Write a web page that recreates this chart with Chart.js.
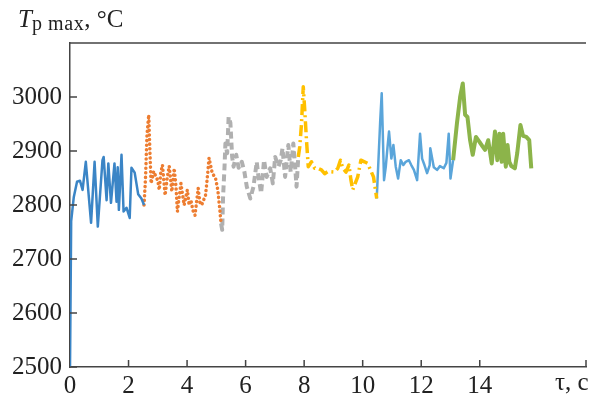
<!DOCTYPE html>
<html>
<head>
<meta charset="utf-8">
<script src="https://cdn.jsdelivr.net/npm/chart.js@4.4.1/dist/chart.umd.min.js"></script>
<style>
    body { margin: 0; background: #fff; }
    #wrap { position: relative; width: 590px; height: 407px; }
    #ytitle {
        position: absolute; left: 18px; top: 5px;
        font-family: "Liberation Serif", "Times New Roman", serif;
        font-size: 25px; color: #222; white-space: nowrap;
    }
    #ytitle .sub { font-size: 20px; position: relative; top: 3px; letter-spacing: 0.6px; }
</style>
</head>
<body>
<div id="wrap">
    <canvas id="chart" width="590" height="407"></canvas>
    <div id="ytitle"><i>T</i><span class="sub">p max</span>, °C</div>
</div>
<script>
    // time, s and temperature, °C for each part of the record
    var t1 = [0, 0.04, 0.13, 0.24, 0.34, 0.43, 0.54, 0.72, 0.84, 0.95, 1.11, 1.15, 1.25, 1.31, 1.40, 1.52, 1.59, 1.63, 1.67, 1.76, 1.83, 1.93, 2.04, 2.10, 2.21, 2.33, 2.44, 2.53];
    var T1 = [2500, 2770, 2815, 2843, 2845, 2828, 2880, 2767, 2880, 2760, 2883, 2889, 2809, 2877, 2804, 2877, 2806, 2870, 2791, 2893, 2788, 2795, 2776, 2869, 2860, 2820, 2812, 2800];

    var t2 = [2.53, 2.58, 2.63, 2.69, 2.73, 2.77, 2.86, 2.94, 3.00, 3.05, 3.10, 3.16, 3.25, 3.32, 3.39, 3.48, 3.56, 3.62, 3.67, 3.73, 3.79, 3.90, 4.01, 4.07, 4.13, 4.20, 4.27, 4.38, 4.44, 4.50, 4.63, 4.69, 4.75, 4.86, 4.97, 5.05, 5.12, 5.16];
    var T2 = [2800, 2850, 2930, 2967, 2900, 2840, 2862, 2852, 2845, 2828, 2860, 2874, 2818, 2850, 2872, 2825, 2868, 2835, 2788, 2815, 2840, 2800, 2828, 2800, 2809, 2790, 2781, 2831, 2805, 2800, 2818, 2850, 2887, 2859, 2850, 2828, 2791, 2766];

    var t3 = [5.16, 5.20, 5.23, 5.28, 5.31, 5.37, 5.42, 5.48, 5.54, 5.59, 5.68, 5.76, 5.87, 5.96, 6.04, 6.16, 6.27, 6.38, 6.44, 6.53, 6.63, 6.72, 6.84, 6.93, 7.01, 7.12, 7.20, 7.26, 7.35, 7.46, 7.54, 7.63, 7.68, 7.74, 7.80];
    var T3 = [2766, 2754, 2815, 2871, 2914, 2896, 2963, 2952, 2889, 2871, 2893, 2869, 2880, 2861, 2834, 2812, 2834, 2880, 2852, 2822, 2883, 2852, 2868, 2840, 2889, 2871, 2883, 2905, 2852, 2911, 2861, 2914, 2880, 2834, 2889];

    var t4 = [7.80, 7.85, 7.91, 7.97, 8.02, 8.08, 8.14, 8.25, 8.36, 8.47, 8.59, 8.70, 8.81, 9.04, 9.15, 9.24, 9.32, 9.43, 9.53, 9.60, 9.66, 9.83, 9.94, 10.06, 10.17, 10.37, 10.48];
    var T4 = [2889, 2908, 2951, 3019, 2976, 2920, 2871, 2880, 2868, 2868, 2865, 2858, 2862, 2861, 2868, 2883, 2868, 2861, 2874, 2846, 2828, 2852, 2883, 2880, 2877, 2852, 2812];

    var t5 = [10.48, 10.60, 10.65, 10.73, 10.79, 10.85, 10.90, 10.98, 11.05, 11.13, 11.21, 11.30, 11.39, 11.47, 11.58, 11.66, 11.75, 11.86, 11.96, 12.03, 12.11, 12.20, 12.29, 12.31, 12.43, 12.54, 12.64, 12.77, 12.86, 12.94, 13.00, 13.09];
    var T5 = [2812, 2957, 3007, 2846, 2871, 2908, 2936, 2886, 2911, 2871, 2849, 2883, 2874, 2880, 2883, 2874, 2865, 2846, 2932, 2886, 2874, 2859, 2874, 2905, 2870, 2865, 2872, 2868, 2878, 2932, 2849, 2883];

    var t6 = [13.09, 13.22, 13.33, 13.42, 13.50, 13.58, 13.67, 13.76, 13.87, 13.99, 14.10, 14.18, 14.29, 14.41, 14.52, 14.60, 14.67, 14.75, 14.80, 14.89, 14.95, 15.01, 15.08, 15.20, 15.28, 15.39, 15.48, 15.59, 15.69, 15.76];
    var T6 = [2883, 2951, 3000, 3025, 2967, 2963, 2920, 2893, 2926, 2917, 2908, 2902, 2920, 2877, 2936, 2883, 2932, 2880, 2932, 2871, 2911, 2880, 2872, 2868, 2896, 2948, 2928, 2926, 2920, 2868];

    var xLabels = ['0', '2', '4', '6', '8', '10', '12', '14'];
    var yLabels = ['2500', '2600', '2700', '2800', '2900', '3000'];

    var serif = '"Liberation Serif", "Times New Roman", serif';

    function pts(t, T) {
        return t.map(function(v, i) { return {x: v, y: T[i]}; });
    }

    function line(t, T, color, width, dash, cap) {
        return {
            data: pts(t, T),
            borderColor: color,
            borderWidth: width,
            borderDash: dash,
            borderCapStyle: cap || 'butt',
            borderJoinStyle: 'round',
            pointRadius: 0,
            tension: 0,
            fill: false
        };
    }

    // inner tick marks, top frame line and the x axis name
    var decor = {
        id: 'decor',
        afterDraw: function(chart) {
            var ctx = chart.ctx, a = chart.chartArea;
            var xs = chart.scales.x, ys = chart.scales.y;
            ctx.save();
            ctx.strokeStyle = '#444';
            ctx.lineWidth = 1.5;
            ctx.beginPath();
            ctx.moveTo(a.left, a.top);
            ctx.lineTo(a.right, a.top);
            xs.ticks.forEach(function(tk) {
                var px = xs.getPixelForValue(tk.value);
                if (tk.value === 0) return;
                ctx.moveTo(px, a.bottom);
                ctx.lineTo(px, a.bottom - 7);
            });
            ys.ticks.forEach(function(tk) {
                var py = ys.getPixelForValue(tk.value);
                ctx.moveTo(a.left, py);
                ctx.lineTo(a.left + 7, py);
            });
            ctx.stroke();
            ctx.fillStyle = '#222';
            ctx.font = '25px ' + serif;
            ctx.textBaseline = 'top';
            ctx.textAlign = 'left';
            ctx.fillText('τ, c', 555, a.bottom + 4);
            ctx.restore();
        }
    };

    new Chart(document.getElementById('chart'), {
        type: 'line',
        data: {
            datasets: [
                line(t1, T1, '#3b85c6', 2.5, []),
                line(t2, T2, '#ed7d31', 3.5, [0.1, 4.5], 'round'),
                line(t3, T3, '#b0b0b0', 4, [7, 4]),
                line(t4, T4, '#ffc000', 3.5, [11, 4, 2, 4]),
                line(t5, T5, '#5aa5da', 2.5, []),
                line(t6, T6, '#8cb44a', 4, [])
            ]
        },
        options: {
            responsive: false,
            animation: false,
            layout: { padding: { top: 43, right: 0, left: 0, bottom: 0 } },
            plugins: { legend: { display: false }, tooltip: { enabled: false } },
            scales: {
                x: {
                    type: 'linear',
                    min: 0,
                    max: 17.63,
                    afterFit: function(s) { s.height = 40; },
                    grid: { display: false, drawTicks: false },
                    border: { display: true, color: '#444', width: 1.5 },
                    ticks: {
                        stepSize: 2,
                        autoSkip: false,
                        maxRotation: 0,
                        padding: 4,
                        color: '#222',
                        font: { family: serif, size: 25 },
                        callback: function(v) { return xLabels[v / 2] || ''; }
                    }
                },
                y: {
                    min: 2500,
                    max: 3100,
                    afterFit: function(s) { s.width = 70; },
                    grid: { display: false, drawTicks: false },
                    border: { display: true, color: '#444', width: 1.5 },
                    ticks: {
                        stepSize: 100,
                        padding: 8,
                        color: '#222',
                        font: { family: serif, size: 25 },
                        callback: function(v) { return yLabels[(v - 2500) / 100] || ''; }
                    }
                }
            }
        },
        plugins: [decor]
    });
</script>
</body>
</html>
